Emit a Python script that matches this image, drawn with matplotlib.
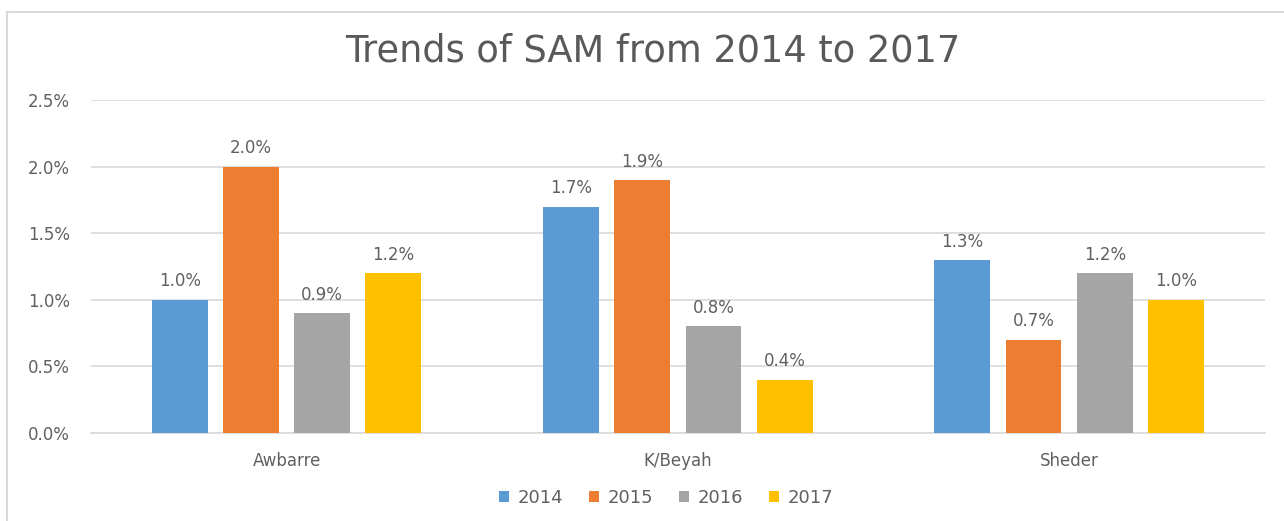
#!/usr/bin/env python3
"""
Trends of SAM from 2014 to 2017 - grouped bar chart
"""
import numpy as np
import matplotlib
matplotlib.use('Agg')
import matplotlib.pyplot as plt
from matplotlib.patches import Rectangle

districts = ['Awbarre', 'K/Beyah', 'Sheder']
years = ['2014', '2015', '2016', '2017']
sam_2014 = [1.0, 1.7, 1.3]
sam_2015 = [2.0, 1.9, 0.7]
sam_2016 = [0.9, 0.8, 1.2]
sam_2017 = [1.2, 0.4, 1.0]
colors = ['#5b9bd5', '#ed7d31', '#a5a5a5', '#ffc000']


def main():
  plt.rcParams['font.family'] = ['DejaVu Sans']
  fig = plt.figure(figsize=(12.84, 5.21), dpi=100)
  ax = fig.add_axes([0.0709, 0.169, 0.9141, 0.639])

  # chart border (runs off the right and bottom edges)
  fig.patches.append(Rectangle((7 / 1284, -0.1), 1.2, 1.1 - 12 / 521,
                               transform=fig.transFigure, fill=False,
                               edgecolor='#d9d9d9', linewidth=1.5))

  series = [sam_2014, sam_2015, sam_2016, sam_2017]
  x = np.arange(len(districts))
  width = 0.143
  step = 0.182
  for i, (vals, year) in enumerate(zip(series, years)):
    pos = x + (i - 1.5) * step
    bars = ax.bar(pos, vals, width, color=colors[i], label=year, zorder=3)
    for b, v in zip(bars, vals):
      ax.text(b.get_x() + b.get_width() / 2, v + 0.07, '%.1f%%' % v,
              ha='center', va='bottom', fontsize=12, color='#606060')

  ax.set_xlim(-0.5, 2.5)
  ax.set_ylim(0, 2.5)
  ax.set_yticks(np.arange(0, 2.51, 0.5))
  ax.set_yticklabels(['%.1f%%' % t for t in np.arange(0, 2.51, 0.5)])
  ax.set_xticks(x)
  ax.set_xticklabels(districts)
  ax.tick_params(axis='both', length=0, labelsize=12, labelcolor='#606060')
  ax.tick_params(axis='y', pad=15)
  ax.tick_params(axis='x', pad=14)
  ax.grid(axis='y', color='#d9d9d9', linewidth=1.2, zorder=0)
  for side in ['top', 'right', 'left']:
    ax.spines[side].set_visible(False)
  ax.spines['bottom'].set_color('#d9d9d9')
  ax.spines['bottom'].set_linewidth(1.2)

  fig.text(0.508, 0.902, 'Trends of SAM from 2014 to 2017', ha='center',
           va='center', fontsize=26.5, color='#595959')
  ax.legend(loc='center', bbox_to_anchor=(0.49, -0.196), ncol=4,
            frameon=False, fontsize=13, labelcolor='#606060',
            handlelength=0.55, handleheight=0.55, handletextpad=0.5,
            columnspacing=1.4)

  fig.savefig('out.png', dpi=100)


if __name__ == '__main__':
  main()
